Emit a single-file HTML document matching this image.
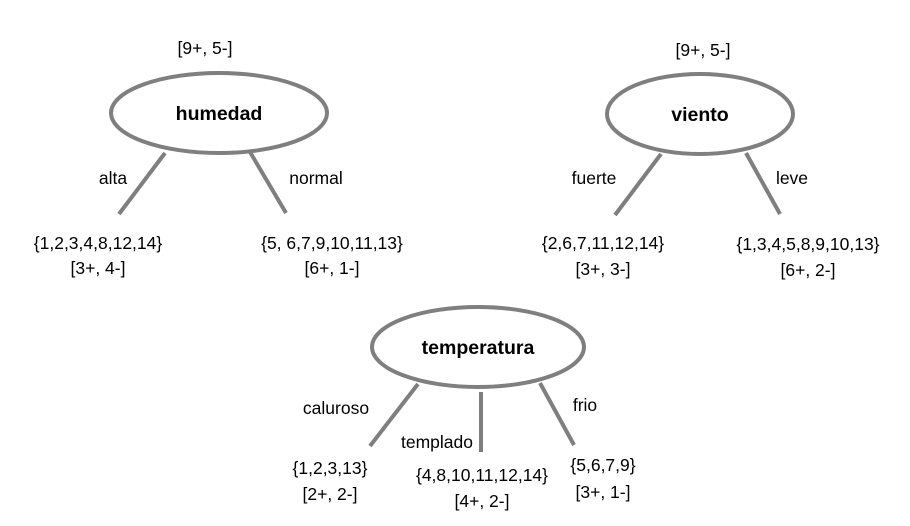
<!DOCTYPE html>
<html><head><meta charset="utf-8"><style>
html,body{margin:0;padding:0;background:#fff;width:910px;height:526px;overflow:hidden}
svg text{font-family:"Liberation Sans",sans-serif;font-size:17.5px;fill:#000;text-anchor:middle}
svg text.b{font-weight:bold;font-size:19.5px}
ellipse,line{stroke:#7f7f7f;stroke-width:4;fill:none}
</style></head><body>
<svg width="910" height="526" viewBox="0 0 910 526">
<g>
<text x="205" y="54">[9+, 5-]</text>
<ellipse cx="219" cy="113" rx="108" ry="40"/>
<text class="b" x="219" y="120">humedad</text>
<line x1="165" y1="153" x2="119" y2="214"/>
<line x1="250" y1="152" x2="286" y2="213"/>
<text x="113" y="184">alta</text>
<text x="316" y="184">normal</text>
<text x="98" y="249">{1,2,3,4,8,12,14}</text>
<text x="98" y="274">[3+, 4-]</text>
<text x="332" y="249">{5, 6,7,9,10,11,13}</text>
<text x="332" y="274">[6+, 1-]</text>
</g>
<g>
<text x="703" y="56">[9+, 5-]</text>
<ellipse cx="700" cy="114" rx="93" ry="40"/>
<text class="b" x="700" y="121">viento</text>
<line x1="661" y1="154" x2="615" y2="215"/>
<line x1="746" y1="153" x2="780" y2="214"/>
<text x="594" y="184">fuerte</text>
<text x="792" y="184">leve</text>
<text x="603" y="249">{2,6,7,11,12,14}</text>
<text x="603" y="275">[3+, 3-]</text>
<text x="808" y="250">{1,3,4,5,8,9,10,13}</text>
<text x="808" y="276">[6+, 2-]</text>
</g>
<g>
<ellipse cx="478" cy="347" rx="106" ry="40"/>
<text class="b" x="478" y="354">temperatura</text>
<line x1="418" y1="384" x2="370" y2="446"/>
<line x1="481" y1="392" x2="481" y2="452"/>
<line x1="540" y1="383" x2="574" y2="445"/>
<text x="336" y="414">caluroso</text>
<text x="437" y="448">templado</text>
<text x="585" y="411">frio</text>
<text x="330" y="474">{1,2,3,13}</text>
<text x="330" y="500">[2+, 2-]</text>
<text x="482" y="481">{4,8,10,11,12,14}</text>
<text x="482" y="507">[4+, 2-]</text>
<text x="603" y="471">{5,6,7,9}</text>
<text x="603" y="498">[3+, 1-]</text>
</g>
</svg>
</body></html>
